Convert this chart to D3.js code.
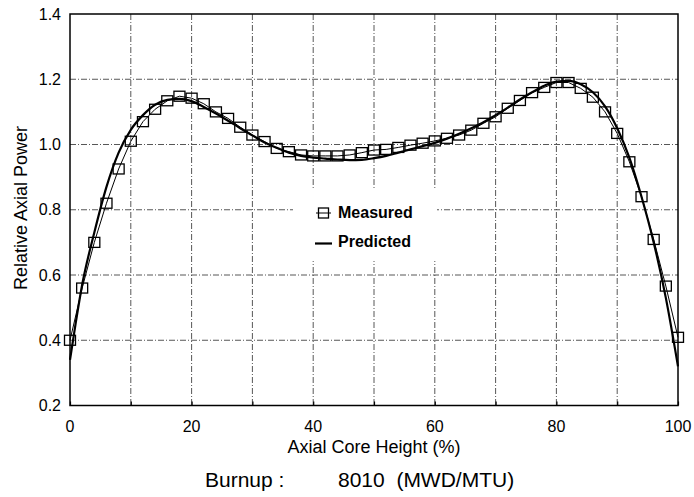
<!DOCTYPE html>
<html><head><meta charset="utf-8">
<script src="https://cdn.jsdelivr.net/npm/d3@7"></script>
<style>body{margin:0;background:#fff}svg{display:block}text{font-family:"Liberation Sans",Arial,sans-serif;fill:#000}</style>
</head><body>
<svg id="c" width="694" height="497"></svg>
<script>
const measuredX = [0,2,4,6,8,10,12,14,16,18,20,22,24,26,28,30,32,34,36,38,40,42,44,46,48,50,52,54,56,58,60,62,64,66,68,70,72,74,76,78,80,82,84,86,88,90,92,94,96,98,100];
const measuredY = [0.40,0.56,0.70,0.82,0.925,1.01,1.07,1.108,1.134,1.148,1.142,1.125,1.10,1.08,1.053,1.029,1.009,0.988,0.978,0.968,0.965,0.965,0.965,0.968,0.975,0.983,0.985,0.991,0.998,1.004,1.011,1.019,1.029,1.044,1.065,1.085,1.111,1.135,1.159,1.175,1.19,1.19,1.172,1.145,1.10,1.034,0.947,0.84,0.709,0.566,0.409];
const predictedX = [0,1,2,4,6,8,10,12,14,16,18,20,22,24,26,28,30,32,34,36,38,40,42,44,46,48,50,52,54,56,58,60,62,64,66,68,70,72,74,76,78,80,82,84,86,88,90,92,94,96,98,100];
const predictedY = [0.34,0.46,0.57,0.73,0.87,0.975,1.045,1.09,1.122,1.137,1.14,1.133,1.115,1.095,1.073,1.05,1.028,1.006,0.99,0.975,0.965,0.96,0.957,0.954,0.952,0.953,0.958,0.965,0.975,0.985,0.995,1.005,1.018,1.033,1.05,1.068,1.09,1.113,1.138,1.16,1.18,1.193,1.195,1.185,1.16,1.117,1.05,0.96,0.84,0.70,0.53,0.32];
const xTicks = [0,20,40,60,80,100];
const xGrid = [10,20,30,40,50,60,70,80,90];
const yTicks = [0.2,0.4,0.6,0.8,1.0,1.2,1.4];
const seriesNames = ["Measured","Predicted"];
const xTitle = "Axial Core Height (%)";
const yTitle = "Relative Axial Power";
const burnupLabel = "Burnup :";
const burnupValue = "8010\u00a0\u00a0(MWD/MTU)";

const svg = d3.select("#c");
const L=70, R=678, T=14, B=405.5;
const x = d3.scaleLinear().domain([0,100]).range([L,R]);
const y = d3.scaleLinear().domain([0.2,1.4]).range([B,T]);

// grid
const g = svg.append("g");
g.selectAll("line.vg").data(xGrid).enter().append("line")
  .attr("x1",d=>x(d)).attr("x2",d=>x(d)).attr("y1",T).attr("y2",B)
  .attr("stroke","#444").attr("stroke-width",0.9).attr("stroke-dasharray","6,2,1,2");
g.selectAll("line.hg").data(yTicks.slice(1,-1)).enter().append("line")
  .attr("x1",L).attr("x2",R).attr("y1",d=>y(d)).attr("y2",d=>y(d))
  .attr("stroke","#444").attr("stroke-width",0.9).attr("stroke-dasharray","6,2,1,2");

// legend background
svg.append("rect").attr("x",293).attr("y",188).attr("width",144).attr("height",73).attr("fill","#fff");

// frame
svg.append("rect").attr("x",L).attr("y",T).attr("width",R-L).attr("height",B-T)
  .attr("fill","none").attr("stroke","#000").attr("stroke-width",1.5);

// minor tick marks
const xa = d3.axisBottom(x).tickValues(xGrid.concat([0,100])).tickSize(-4).tickFormat("");
svg.append("g").attr("transform",`translate(0,${B})`).call(xa).call(s=>s.select(".domain").remove())
  .selectAll("line").attr("stroke","#000").attr("stroke-width",1.2);

// tick labels
svg.append("g").selectAll("text").data(xTicks).enter().append("text")
  .attr("x",d=>x(d)).attr("y",432).attr("text-anchor","middle").attr("font-size",16).text(d=>d);
svg.append("g").selectAll("text").data(yTicks).enter().append("text")
  .attr("x",61).attr("y",d=>y(d)+5.5).attr("text-anchor","end").attr("font-size",16).text(d=>d.toFixed(1));

// series
const mData = measuredX.map((v,i)=>[v,measuredY[i]]);
const pData = predictedX.map((v,i)=>[v,predictedY[i]]);
svg.append("path").datum(mData).attr("fill","none").attr("stroke","#000").attr("stroke-width",1)
  .attr("d",d3.line().x(d=>x(d[0])).y(d=>y(d[1])));
svg.append("path").datum(pData).attr("fill","none").attr("stroke","#000").attr("stroke-width",2.2)
  .attr("d",d3.line().curve(d3.curveMonotoneX).x(d=>x(d[0])).y(d=>y(d[1])));
svg.append("g").selectAll("rect").data(mData).enter().append("rect")
  .attr("x",d=>x(d[0])-5.5).attr("y",d=>y(d[1])-5).attr("width",11).attr("height",10)
  .attr("fill","none").attr("stroke","#000").attr("stroke-width",1.3);

// legend
svg.append("line").attr("x1",316).attr("x2",331).attr("y1",213).attr("y2",213).attr("stroke","#000").attr("stroke-width",1);
svg.append("rect").attr("x",318.5).attr("y",208).attr("width",10).attr("height",10).attr("fill","none").attr("stroke","#000").attr("stroke-width",1.3);
svg.append("text").attr("x",338).attr("y",218).attr("font-size",16).attr("font-weight","bold").text(seriesNames[0]);
svg.append("line").attr("x1",315).attr("x2",332).attr("y1",243.5).attr("y2",243.5).attr("stroke","#000").attr("stroke-width",2.2);
svg.append("text").attr("x",338).attr("y",247).attr("font-size",16).attr("font-weight","bold").text(seriesNames[1]);

// titles
svg.append("text").attr("x",374).attr("y",453).attr("text-anchor","middle").attr("font-size",18).text(xTitle);
svg.append("text").attr("transform",`translate(27,208) rotate(-90)`).attr("text-anchor","middle").attr("font-size",18).text(yTitle);
svg.append("text").attr("x",205).attr("y",487).attr("font-size",21).text(burnupLabel);
svg.append("text").attr("x",338).attr("y",487).attr("font-size",21).text(burnupValue);
</script>
</body></html>
